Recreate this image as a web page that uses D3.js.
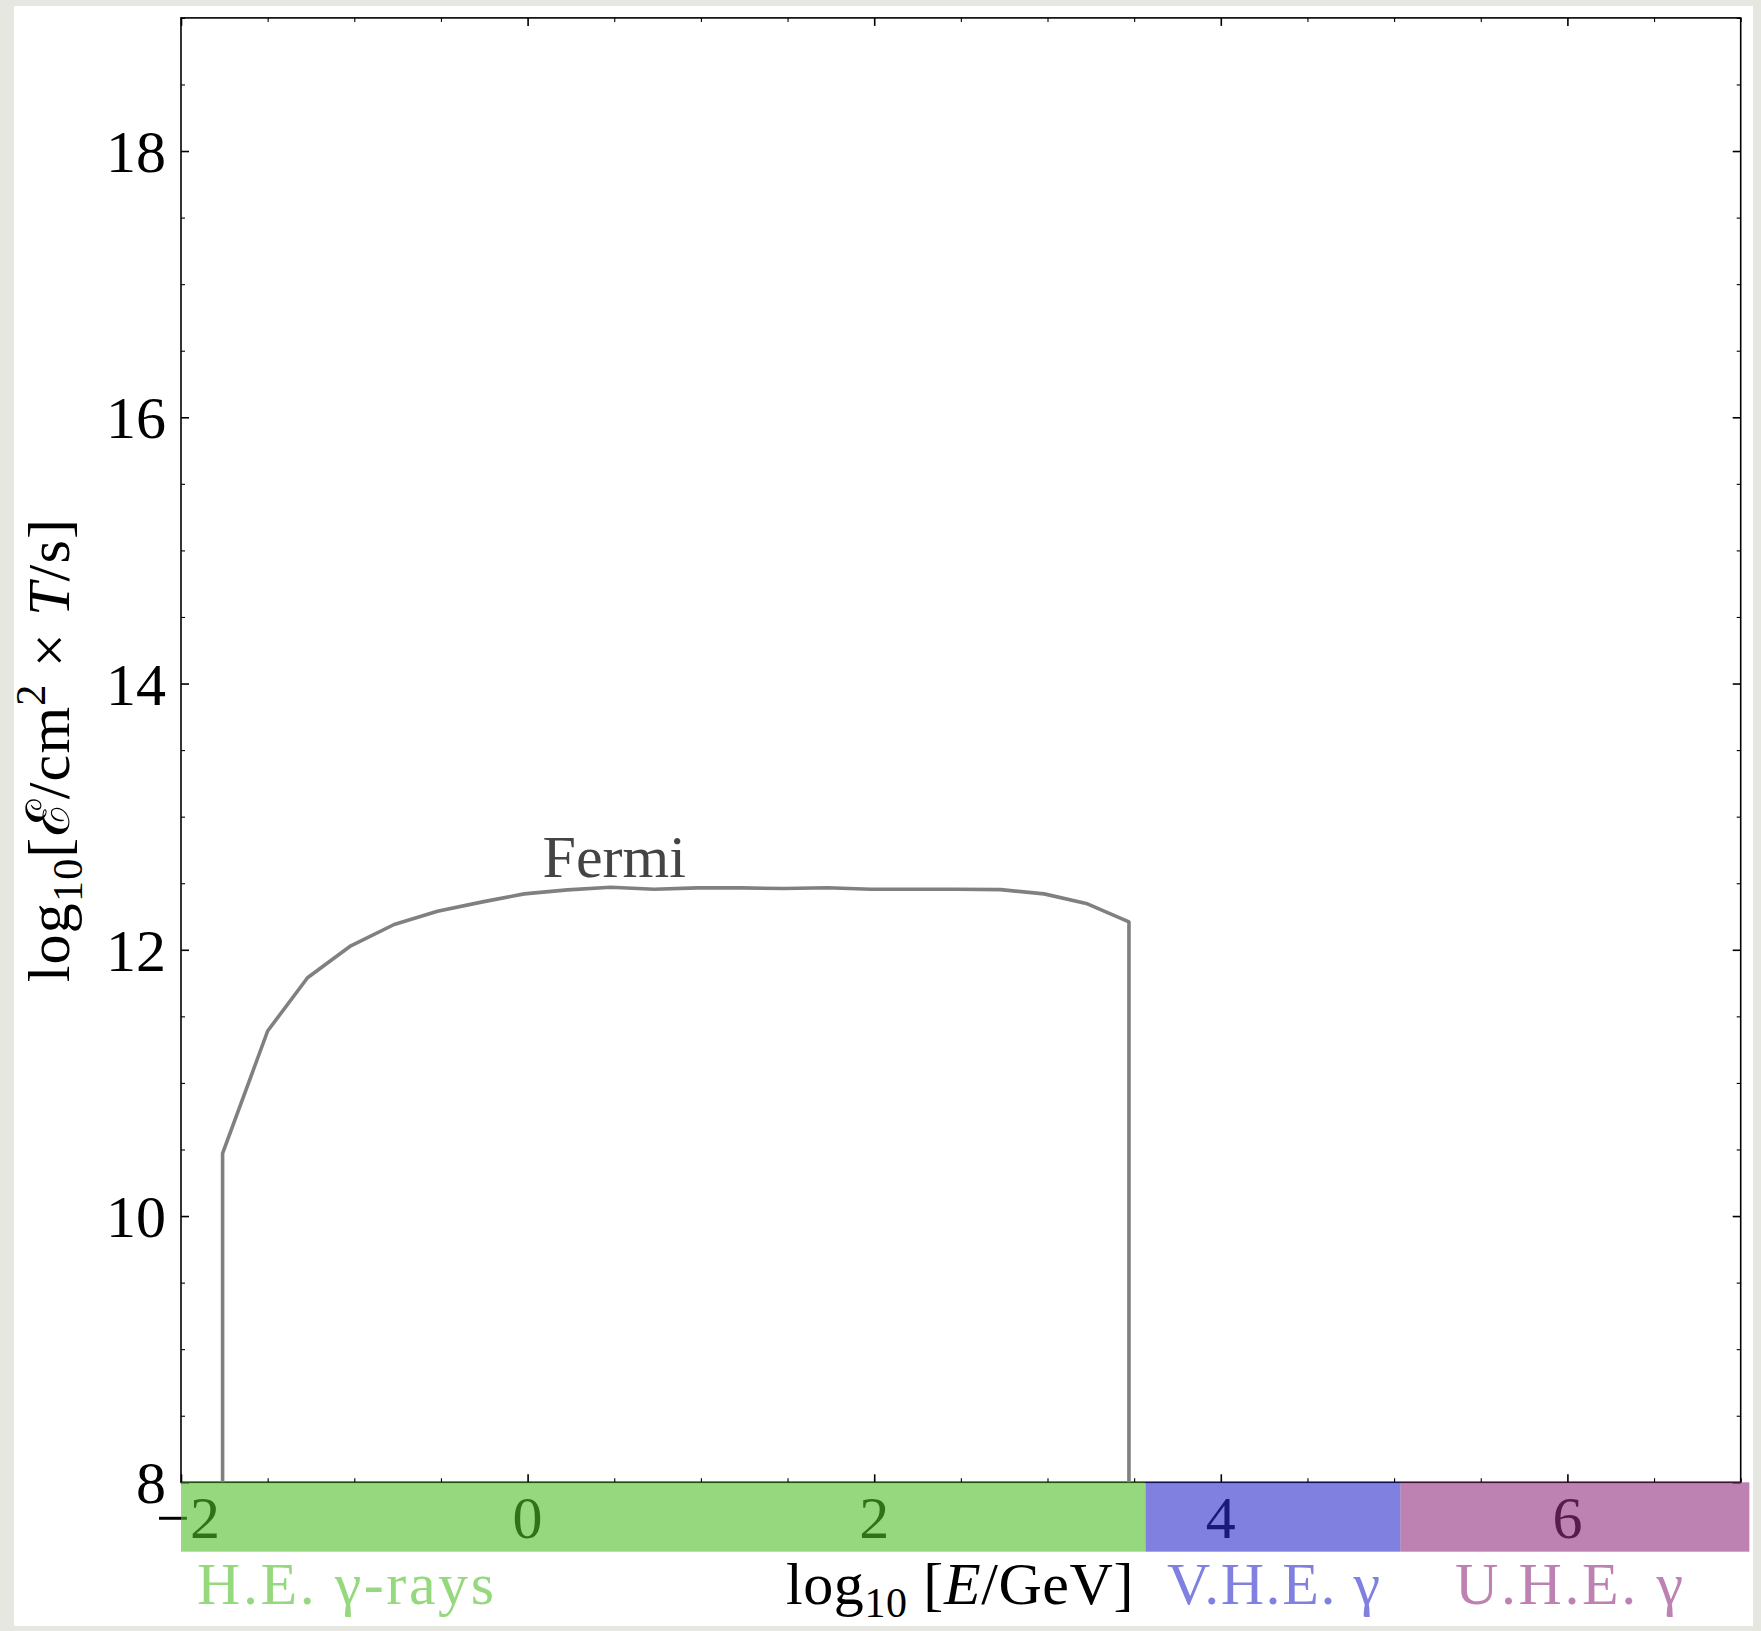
<!DOCTYPE html>
<html>
<head>
<meta charset="utf-8">
<script src="https://cdn.jsdelivr.net/npm/d3@7"></script>
<style>
  body { margin: 0; background: #e7e7e2; }
  svg { display: block; }
  text { font-family: "Liberation Serif", "DejaVu Serif", serif; }
</style>
</head>
<body>
<div id="chart"></div>
<script>
// Fermi exposure curve (log10 E/GeV , log10 exposure)
const fermiLogE = [-1.76, -1.76, -1.5, -1.27, -1.02, -0.77, -0.52, -0.26, -0.02, 0.23, 0.48, 0.73, 0.98, 1.23, 1.48, 1.73, 1.98, 2.23, 2.48, 2.73, 2.98, 3.23, 3.47, 3.47];
const fermiExposure = [8, 10.47, 11.39, 11.79, 12.03, 12.19, 12.29, 12.36, 12.42, 12.45, 12.47, 12.455, 12.465, 12.465, 12.46, 12.466, 12.455, 12.455, 12.455, 12.452, 12.42, 12.345, 12.21, 8];

// bandes d'energie
const bandNames = ["H.E. γ-rays", "V.H.E. γ", "U.H.E. γ"];
const bandStart = [-2, 3.566, 5.037];
const bandEnd = [3.566, 5.037, 7.05];
const bandColors = ["#50be28", "#2b2bcb", "#932f7f"];

const xTicks = [-2, 0, 2, 4, 6];
const yTicks = [8, 10, 12, 14, 16, 18];

const width = 1761,
  height = 1631;

const svg = d3
  .select("#chart")
  .append("svg")
  .attr("width", width)
  .attr("height", height);

// fond blanc
svg.append("rect")
  .attr("x", 14).attr("y", 6)
  .attr("width", 1739).attr("height", 1620)
  .attr("fill", "#ffffff");

const x = d3.scaleLinear().domain([-2, 7]).range([181, 1740.7]);
const y = d3.scaleLinear().domain([8, 19]).range([1482.3, 17.9]);

const xMinor = d3.range(-2, 7.01, 0.5).filter((d) => d % 2 !== 0);
const yMinor = d3.range(8, 19.01, 0.5).filter((d) => d % 2 !== 0);

// axes (ticks vers l'interieur)
function addAxis(axis, tx, ty, ticks, size, sw) {
  const g = svg.append("g")
    .attr("transform", "translate(" + tx + "," + ty + ")")
    .call(axis.tickValues(ticks).tickSize(-size).tickSizeOuter(0).tickFormat(""));
  g.select(".domain").remove();
  g.selectAll("line").attr("stroke", "#000").attr("stroke-width", sw);
  return g;
}
addAxis(d3.axisBottom(x), 0, y(8), xTicks, 8, 1.6);
addAxis(d3.axisBottom(x), 0, y(8), xMinor, 4, 1.1);
addAxis(d3.axisTop(x), 0, y(19), xTicks, 8, 1.6);
addAxis(d3.axisTop(x), 0, y(19), xMinor, 4, 1.1);
addAxis(d3.axisLeft(y), x(-2), 0, yTicks, 8, 1.6);
addAxis(d3.axisLeft(y), x(-2), 0, yMinor, 4, 1.1);
addAxis(d3.axisRight(y), x(7), 0, yTicks, 8, 1.6);
addAxis(d3.axisRight(y), x(7), 0, yMinor, 4, 1.1);

// cadre
svg.append("rect")
  .attr("x", x(-2)).attr("y", y(19))
  .attr("width", x(7) - x(-2)).attr("height", y(8) - y(19))
  .attr("fill", "none").attr("stroke", "#000").attr("stroke-width", 1.6);

// labels des ticks
svg.selectAll(".ylab")
  .data(yTicks)
  .enter()
  .append("text")
  .attr("x", x(-2) - 15)
  .attr("y", (d) => y(d))
  .attr("dy", "0.35em")
  .attr("text-anchor", "end")
  .style("font-size", "60px")
  .text((d) => d);

svg.selectAll(".xlab")
  .data(xTicks)
  .enter()
  .append("text")
  .attr("x", (d) => x(d) + (d < 0 ? 7 : 0))
  .attr("y", 1538)
  .attr("text-anchor", "middle")
  .style("font-size", "60px")
  .text((d) => (d < 0 ? "\u2212" + Math.abs(d) : d));

// courbe Fermi
const line = d3.line()
  .x((d, i) => x(fermiLogE[i]))
  .y((d) => y(d));

svg.append("path")
  .datum(fermiExposure)
  .attr("d", line)
  .attr("fill", "none")
  .attr("stroke", "#808080")
  .attr("stroke-width", 3.6)
  .attr("stroke-linejoin", "round");

svg.append("text")
  .attr("x", x(0.5))
  .attr("y", y(12.55))
  .attr("text-anchor", "middle")
  .attr("fill", "#444")
  .style("font-size", "60px")
  .text("Fermi");

// bandes colorees par dessus les labels
svg.selectAll(".band")
  .data(bandNames)
  .enter()
  .append("rect")
  .attr("x", (d, i) => x(bandStart[i]))
  .attr("y", y(8))
  .attr("width", (d, i) => x(bandEnd[i]) - x(bandStart[i]))
  .attr("height", 69.4)
  .attr("fill", (d, i) => bandColors[i])
  .attr("fill-opacity", 0.6);

const bandTextX = [197, 1167, 1455];
const bandTextLen = [297, 213, 228];
svg.selectAll(".bandtext")
  .data(bandNames)
  .enter()
  .append("text")
  .attr("x", (d, i) => bandTextX[i])
  .attr("y", 1604)
  .attr("textLength", (d, i) => bandTextLen[i])
  .attr("lengthAdjust", "spacing")
  .attr("fill", (d, i) => bandColors[i])
  .attr("fill-opacity", 0.6)
  .style("font-size", "60px")
  .text((d) => d);

// titres des axes
function richText(sel, parts) {
  parts.forEach(function (p) {
    const t = sel.append("tspan").text(p.t);
    if (p.dy) t.attr("dy", p.dy);
    if (p.size) t.style("font-size", p.size);
    if (p.italic) t.style("font-style", "italic");
  });
}

const xl = svg.append("text")
  .attr("x", 786)
  .attr("y", 1604)
  .style("font-size", "60px")
  .style("letter-spacing", "0.6px");
richText(xl, [
  { t: "log" },
  { t: "10", dy: 13, size: "42px" },
  { t: " [", dy: -13 },
  { t: "E", italic: true },
  { t: "/GeV]" },
]);

const yl = svg.append("text")
  .attr("transform", "translate(69," + (y(8) + y(19)) / 2 + ") rotate(-90)")
  .attr("text-anchor", "middle")
  .style("font-size", "60px")
  .style("letter-spacing", "1.2px");
richText(yl, [
  { t: "log" },
  { t: "10", dy: 13, size: "42px" },
  { t: "[", dy: -13 },
  { t: "\u2130" },
  { t: "/cm" },
  { t: "2", dy: -24, size: "42px" },
  { t: " \u00d7 ", dy: 24 },
  { t: "T", italic: true },
  { t: "/s]" },
]);
</script>
</body>
</html>
